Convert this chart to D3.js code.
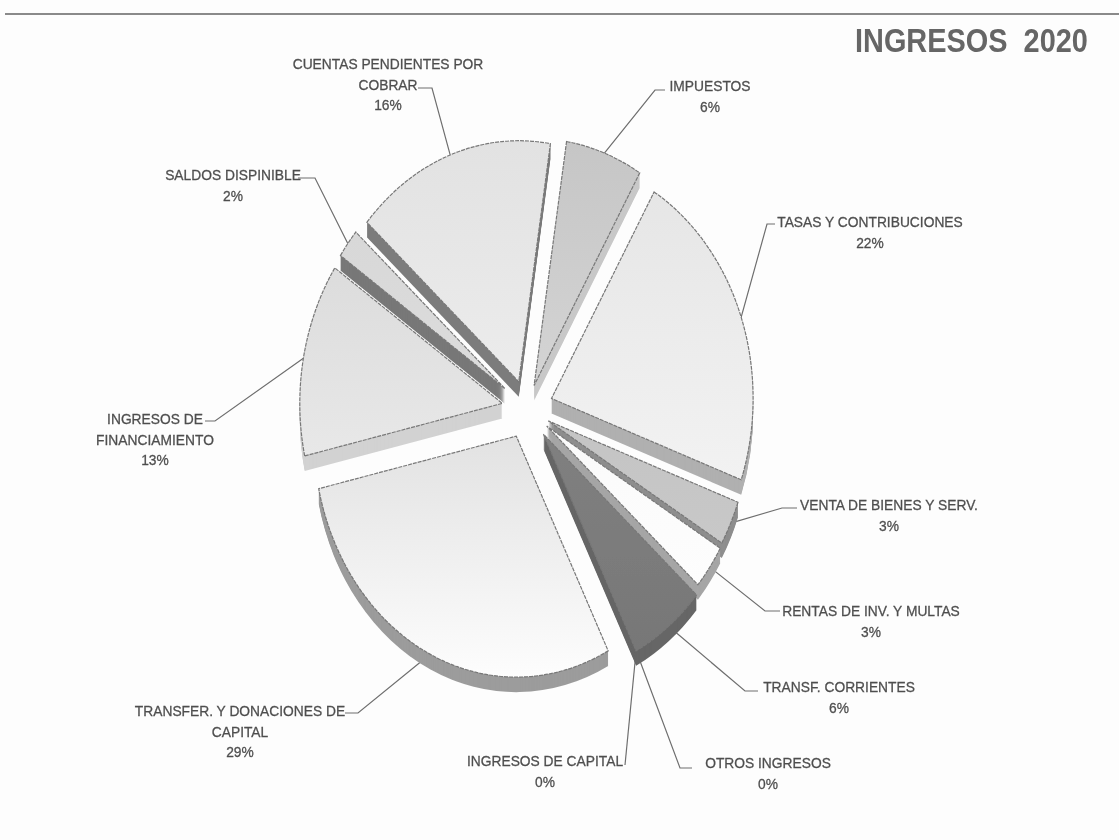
<!DOCTYPE html>
<html lang="en">
<head>
<meta charset="utf-8">
<title>Ingresos 2020</title>
<script src="https://d3js.org/d3.v7.min.js"></script>
<style>
  html, body { margin: 0; padding: 0; background: #fdfdfd; }
  svg { display: block; }
  text { font-family: "Liberation Sans", sans-serif; fill: #4f4f4f; }
  .lab { font-size: 15px; stroke: #4f4f4f; stroke-width: 0.3px; text-anchor: middle; }
  .title { font-size: 34px; font-weight: bold; fill: #666; white-space: pre; }
</style>
</head>
<body>
<svg width="1119" height="840"></svg>
<script>
// values, clockwise from the top
var categories = [
  ["IMPUESTOS"],
  ["TASAS Y CONTRIBUCIONES"],
  ["VENTA DE BIENES Y SERV."],
  ["RENTAS DE INV. Y MULTAS"],
  ["TRANSF. CORRIENTES"],
  ["OTROS INGRESOS"],
  ["INGRESOS DE CAPITAL"],
  ["TRANSFER. Y DONACIONES DE", "CAPITAL"],
  ["INGRESOS DE", "FINANCIAMIENTO"],
  ["SALDOS DISPINIBLE"],
  ["CUENTAS PENDIENTES POR", "COBRAR"]
];
var values = [6, 22, 3, 3, 6, 0, 0, 29, 13, 2, 16];

// greys per slice
var topColors  = ["#c6c6c6", "#e6e6e6", "#c4c4c4", "#fafafa", "#808080", "#888", "#888", "#e2e2e2", "#dcdcdc", "#d8d8d8", "#e2e2e2"];
var lowColors  = ["#d4d4d4", "#f2f2f2", "#c8c8c8", "#fdfdfd", "#777777", "#888", "#888", "#fdfdfd", "#e8e8e8", "#dcdcdc", "#ececec"];
var wallColors = ["#c8c8c8", "#b0b0b0", "#8e8e8e", "#a6a6a6", "#666666", "#888", "#888", "#9c9c9c", "#d2d2d2", "#787878", "#7c7c7c"];

// layout per slice
var explode = [25, 31, 28, 29, 32, 0, 0, 30, 30, 33, 29];
var radius  = [247, 240, 240, 240, 243, 243, 243, 241, 241, 237, 241];
// label centre x, first baseline y, leader elbow x, elbow y, leader end x
var labelX  = [710, 870, 889, 871, 839, 768, 545, 240, 155, 233, 388];
var labelY  = [91, 227, 510, 616, 692, 768, 766, 716, 424, 180, 69];
var elbowX  = [655, 767, 782, 765, 745, 680, 625, 358, 215, 315, 432];
var elbowY  = [90, 224, 508, 611, 691, 768, 765, 713, 421, 178, 88];
var stubX   = [665, 775, 797, 780, 758, 692, 625, 345, 205, 298, 418];

var width = 1119, height = 840;
var cx = 527, cy = 409;
var squeeze = 0.84;   // the pie is tipped, so it reads narrower than tall
var depth = 15;
var narrow = 0.92;    // the scan's lettering is condensed

var svg = d3.select("svg");

var defs = svg.append("defs");
defs.append("filter").attr("id", "scan")
    .attr("x", "-5%").attr("y", "-5%").attr("width", "110%").attr("height", "110%")
  .append("feGaussianBlur").attr("stdDeviation", 0.7);

var page = svg.append("g").attr("filter", "url(#scan)");

page.append("line")
    .attr("x1", 5).attr("x2", width).attr("y1", 14).attr("y2", 14)
    .attr("stroke", "#8a8a8a").attr("stroke-width", 2);

page.append("text").attr("class", "title")
    .attr("transform", "translate(855,52) scale(0.85,1)")
    .text("INGRESOS  2020");

var rad = Math.PI / 180;
var pie = d3.pie().sort(null).startAngle(9 * rad).endAngle(369 * rad);
var slices = pie(values);

// how far a slice is pushed out; an empty slice sits on the one before it
function offset(i) {
  var k = i;
  while (values[k] === 0) k--;
  var mid = (slices[k].startAngle + slices[k].endAngle) / 2;
  return [Math.sin(mid) * explode[k] * squeeze, -Math.cos(mid) * explode[k]];
}

// leaders start on the rim at each slice's mid angle, slices then cover the start
var line = d3.line();
slices.forEach(function(d, i) {
  var mid = (d.startAngle + d.endAngle) / 2;
  var o = offset(i);
  var p = [cx + o[0] + Math.sin(mid) * radius[i] * squeeze,
           cy + o[1] - Math.cos(mid) * radius[i]];
  page.append("path")
      .attr("d", line([p, [elbowX[i], elbowY[i]], [stubX[i], elbowY[i]]]))
      .attr("fill", "none")
      .attr("stroke", "#6e6e6e")
      .attr("stroke-width", 1.2);
});

var arc = d3.arc().innerRadius(0);

slices.forEach(function(d, i) {
  if (d.value === 0) return;
  var o = offset(i);
  var path = arc.outerRadius(radius[i])(d);

  defs.append("linearGradient").attr("id", "face" + i)
      .attr("x1", 0).attr("y1", 0).attr("x2", 0).attr("y2", 1)
    .selectAll("stop").data([topColors[i], lowColors[i]]).enter().append("stop")
      .attr("offset", function(c, k) { return k; })
      .attr("stop-color", function(c) { return c; });

  // side wall: the same slice stacked downwards
  page.selectAll(null).data(d3.range(depth, 0, -1)).enter().append("path")
      .attr("d", path)
      .attr("transform", function(t) { return "translate(" + (cx + o[0]) + "," + (cy + o[1] + t) + ") scale(" + squeeze + ",1)"; })
      .attr("fill", wallColors[i]);

  page.append("path")
      .attr("d", path)
      .attr("transform", "translate(" + (cx + o[0]) + "," + (cy + o[1]) + ") scale(" + squeeze + ",1)")
      .attr("fill", "url(#face" + i + ")")
      .attr("stroke", "#787878")
      .attr("stroke-width", 1.2)
      .attr("stroke-dasharray", "4 1")
      .attr("vector-effect", "non-scaling-stroke");
});

categories.forEach(function(lines, i) {
  var all = lines.concat([values[i] + "%"]);
  page.selectAll(null).data(all).enter().append("text")
      .attr("class", "lab")
      .attr("transform", function(t, k) {
        return "translate(" + labelX[i] + "," + (labelY[i] + k * 20.5) + ") scale(" + narrow + ",1)";
      })
      .text(function(t) { return t; });
});
</script>
</body>
</html>
